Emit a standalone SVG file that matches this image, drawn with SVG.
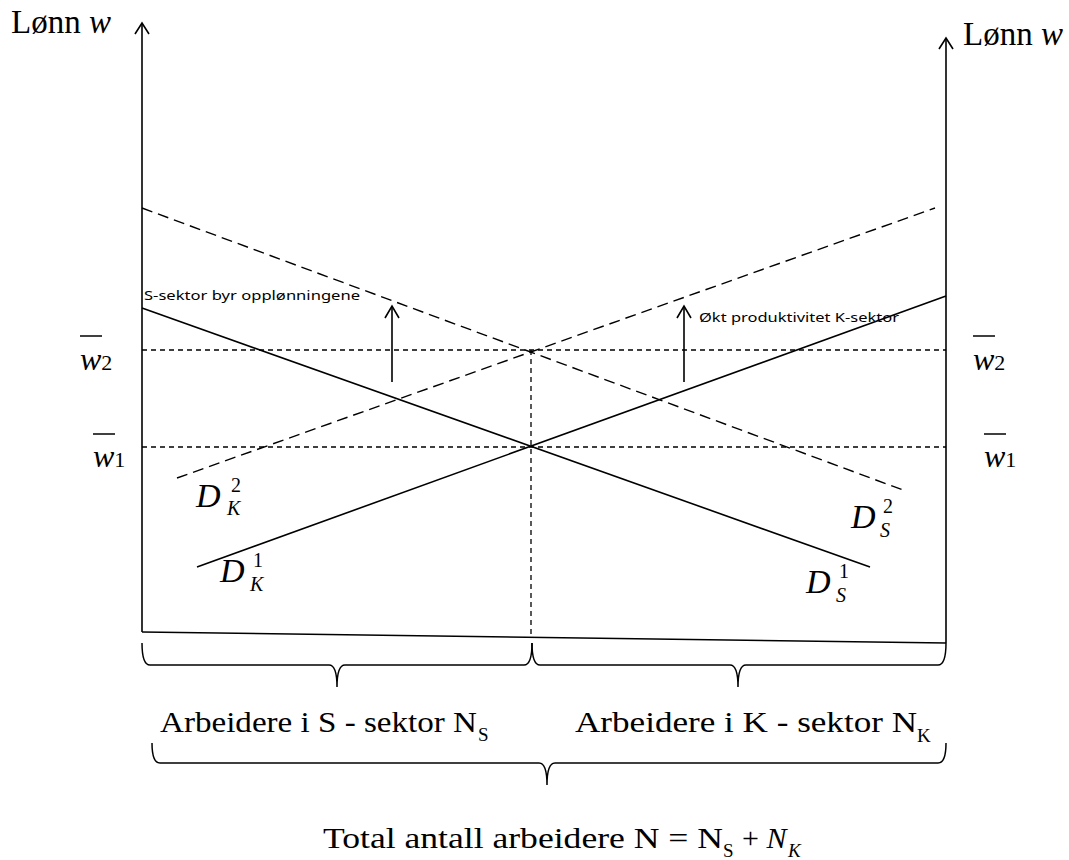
<svg xmlns="http://www.w3.org/2000/svg" width="1069" height="860" viewBox="0 0 1069 860">
<style>
.ln{stroke:#000;stroke-width:1.6;fill:none}
.dl{stroke:#000;stroke-width:1.4;fill:none;stroke-dasharray:11 6}
.ds{stroke:#000;stroke-width:1.3;fill:none;stroke-dasharray:5 4}
.br{stroke:#000;stroke-width:1.5;fill:none}
.t{font-family:"Liberation Serif","Times New Roman",serif;fill:#000}
.i{font-style:italic}
.c{font-family:"Noto Sans","Open Sans",sans-serif;fill:#000;font-size:13px}
</style>
<rect width="1069" height="860" fill="#fff"/>
<g id="axes">
<line class="ln" x1="142" y1="632" x2="142" y2="23"/>
<path d="M135,34 L142,23 L149,34" class="ln"/>
<line class="ln" x1="946" y1="643" x2="946" y2="38"/>
<path d="M939,49 L946,38 L953,49" class="ln"/>
<line class="ln" x1="142" y1="632" x2="946" y2="643"/>
</g>
<g id="connectors">
<line class="ds" x1="142" y1="350" x2="946" y2="350"/>
<line class="ds" x1="142" y1="447" x2="946" y2="447"/>
<line class="ds" x1="531" y1="350" x2="531" y2="637"/>
<line class="ln" x1="142" y1="308" x2="870" y2="567"/>
<line class="ln" x1="197" y1="567" x2="946" y2="296"/>
<line class="dl" x1="142" y1="208" x2="903" y2="490"/>
<line class="dl" x1="177" y1="478" x2="935" y2="208"/>
<line class="ln" x1="392" y1="382" x2="392" y2="306"/>
<path d="M385,318 L392,306 L399,318" class="ln"/>
<line class="ln" x1="684" y1="382" x2="684" y2="306"/>
<path d="M677,318 L684,306 L691,318" class="ln"/>
</g>
<g id="braces">
<path class="br" d="M142,643 Q142,665 150,665 L329,665 Q337,665 337,687 Q337,665 345,665 L524,665 Q532,665 532,643"/>
<path class="br" d="M532,643 Q532,665 540,665 L730,665 Q738,665 738,687 Q738,665 746,665 L938,665 Q946,665 946,643"/>
<path class="br" d="M152,743 Q152,763 160,763 L539,763 Q547,763 547,785 Q547,763 555,763 L938,763 Q946,763 946,743"/>
</g>
<g id="label-lonn-left"><text class="t" x="11" y="33" font-size="33">Lønn <tspan class="i">w</tspan></text></g>
<g id="label-lonn-right"><text class="t" x="963" y="45" font-size="33">Lønn <tspan class="i">w</tspan></text></g>
<g id="label-w2-left">
<line x1="80" y1="336" x2="102" y2="336" stroke="#000" stroke-width="1.5"/>
<text class="t" x="80" y="370" font-size="32"><tspan class="i">w</tspan><tspan font-size="22">2</tspan></text>
</g>
<g id="label-w1-left">
<line x1="93" y1="434" x2="115" y2="434" stroke="#000" stroke-width="1.5"/>
<text class="t" x="93" y="467" font-size="32"><tspan class="i">w</tspan><tspan font-size="22">1</tspan></text>
</g>
<g id="label-w2-right">
<line x1="973" y1="336" x2="995" y2="336" stroke="#000" stroke-width="1.5"/>
<text class="t" x="973" y="370" font-size="32"><tspan class="i">w</tspan><tspan font-size="22">2</tspan></text>
</g>
<g id="label-w1-right">
<line x1="984" y1="434" x2="1006" y2="434" stroke="#000" stroke-width="1.5"/>
<text class="t" x="984" y="467" font-size="32"><tspan class="i">w</tspan><tspan font-size="22">1</tspan></text>
</g>
<g id="label-s-sektor"><text class="c" x="144" y="300" textLength="216" lengthAdjust="spacingAndGlyphs">S-sektor byr opplønningene</text></g>
<g id="label-okt"><text class="c" x="699" y="322" textLength="200" lengthAdjust="spacingAndGlyphs">Økt produktivitet K-sektor</text></g>
<g id="label-DK2">
<text class="t i" x="196" y="507" font-size="34">D</text>
<text class="t" x="231" y="492" font-size="20">2</text>
<text class="t i" x="227" y="515" font-size="20">K</text>
</g>
<g id="label-DK1">
<text class="t i" x="220" y="582" font-size="34">D</text>
<text class="t" x="253" y="567" font-size="20">1</text>
<text class="t i" x="250" y="591" font-size="20">K</text>
</g>
<g id="label-DS2">
<text class="t i" x="851" y="528" font-size="34">D</text>
<text class="t" x="883" y="513" font-size="20">2</text>
<text class="t i" x="880" y="537" font-size="20">S</text>
</g>
<g id="label-DS1">
<text class="t i" x="806" y="593" font-size="34">D</text>
<text class="t" x="839" y="578" font-size="20">1</text>
<text class="t i" x="836" y="602" font-size="20">S</text>
</g>
<g id="label-ns">
<text class="t" x="160" y="732" font-size="30" textLength="317" lengthAdjust="spacingAndGlyphs">Arbeidere i S - sektor N</text>
<text class="t" x="478" y="741" font-size="19">S</text>
</g>
<g id="label-nk">
<text class="t" x="575" y="732" font-size="30" textLength="342" lengthAdjust="spacingAndGlyphs">Arbeidere i K - sektor N</text>
<text class="t" x="917" y="742" font-size="19">K</text>
</g>
<g id="label-total">
<text class="t" x="323" y="848" font-size="30" textLength="400" lengthAdjust="spacingAndGlyphs">Total antall arbeidere N = N</text>
<text class="t" x="723" y="857" font-size="19">S</text>
<text class="t" x="742" y="848" font-size="30">+ <tspan class="i">N</tspan></text>
<text class="t i" x="788" y="857" font-size="19">K</text>
</g>
</svg>
